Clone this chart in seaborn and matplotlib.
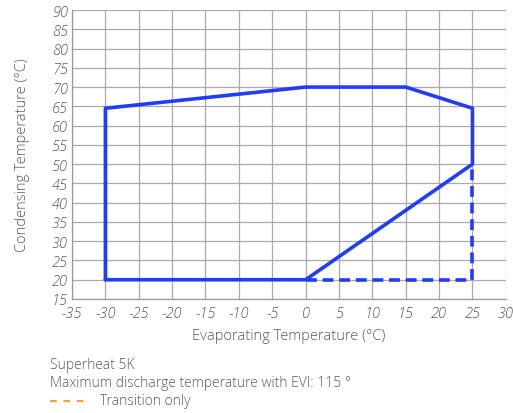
import matplotlib
matplotlib.use("Agg")
import matplotlib.pyplot as plt
import seaborn as sns
import pandas as pd

# Operating envelope (evaporating vs condensing temperature)
env_evap = [-30, -30, 0, 15, 25, 25, 0, -30]
env_cond = [20, 64.5, 70, 70, 64.5, 50, 20, 20]
# Transition-only boundary
trans_evap = [0, 25, 25]
trans_cond = [20, 20, 50]

x_ticks = list(range(-35, 31, 5))
y_ticks = list(range(15, 91, 5))

sns.set_theme(style="white")
plt.rcParams["font.family"] = ["Open Sans", "DejaVu Sans"]
plt.rcParams["font.weight"] = "light"

grey = "#5a5a5a"
blue = "#1f3cff"

fig = plt.figure(figsize=(5.13, 4.14), dpi=100)
ax = fig.add_axes([0.1404, 0.2754, 0.8456, 0.698])

env = pd.DataFrame({"evap": env_evap, "cond": env_cond})
trans = pd.DataFrame({"evap": trans_evap, "cond": trans_cond})

sns.lineplot(data=env, x="evap", y="cond", sort=False, estimator=None,
             color=blue, linewidth=2.6, ax=ax, zorder=3)
sns.lineplot(data=trans, x="evap", y="cond", sort=False, estimator=None,
             color=blue, linewidth=2.6, linestyle=(0, (3.0, 1.6)), ax=ax, zorder=2)

ax.set_xlim(-35, 30)
ax.set_ylim(15, 90)
ax.set_xticks(x_ticks)
ax.set_yticks(y_ticks)
ax.set_xticklabels([str(v) for v in x_ticks], fontstyle="italic", color=grey,
                   fontsize=10.5, fontweight="light")
ax.set_yticklabels([str(v) for v in y_ticks], fontstyle="italic", color=grey,
                   fontsize=10.5, fontweight="light")
ax.grid(True, color="#aaaaaa", linewidth=0.9)
ax.tick_params(axis="x", length=4, color="#aaaaaa", pad=1)
ax.tick_params(axis="y", length=0, pad=3)
for side in ["top", "right"]:
    ax.spines[side].set_visible(False)
for side in ["left", "bottom"]:
    ax.spines[side].set_color("#999999")
    ax.spines[side].set_linewidth(0.9)

ax.set_xlabel("Evaporating Temperature (°C)", color=grey, fontsize=10.5,
              labelpad=6, fontweight="light")
ax.set_ylabel("Condensing Temperature (°C)", color=grey, fontsize=10.5,
              labelpad=16, fontweight="light")

fig.text(50 / 513, 1 - 366 / 414, "Superheat 5K", color=grey, fontsize=10,
         va="center", fontweight="light")
fig.text(50 / 513, 1 - 384 / 414, "Maximum discharge temperature with EVI: 115 °",
         color=grey, fontsize=10, va="center", fontweight="light")
fig.add_artist(plt.Line2D([50 / 513, 86 / 513], [1 - 402 / 414, 1 - 402 / 414],
                          color="#f5a623", linewidth=1.6, linestyle=(0, (3, 3))))
fig.text(100 / 513, 1 - 402 / 414, "Transition only", color=grey, fontsize=10,
         va="center", fontweight="light")

fig.savefig("out.png", dpi=100)
